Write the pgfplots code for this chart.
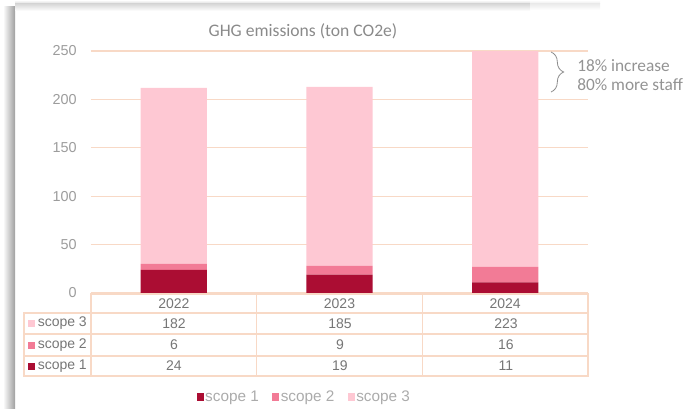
\documentclass[border=0pt]{standalone}
\usepackage{fontspec}
\setmainfont{Liberation Sans}
\newfontfamily\calfont{Carlito}
\usepackage{pgfplots}
\pgfplotsset{compat=1.18}
\usetikzlibrary{decorations.pathreplacing}
\definecolor{s1}{HTML}{AB0D33}
\definecolor{s2}{HTML}{F27B96}
\definecolor{s3}{HTML}{FEC8D3}
\definecolor{gridc}{HTML}{F8D9C6}
\definecolor{tickc}{HTML}{9C9C9C}
\definecolor{tabtxt}{HTML}{767676}
\definecolor{legtxt}{HTML}{ABABAB}
\definecolor{titlec}{HTML}{8A8A8A}
\pgfplotsset{sqleg/.style={legend image code/.code={\fill[##1] (0pt,-2.7pt) rectangle (5.4pt,2.7pt);}}}
\begin{document}
\begin{tikzpicture}[x=0.75pt,y=0.75pt]
\path[use as bounding box] (0,0) rectangle (687,408);
% card shadows
\shade[left color=white, right color=gray!75] (3,0) rectangle (15,401);
\shade[top color=white, bottom color=gray!30] (15,408) rectangle (530,404);
\shade[top color=gray!30, bottom color=white] (15,404) rectangle (530,397);
\shade[top color=white, bottom color=gray!15] (530,408) rectangle (600,404);
\shade[top color=gray!15, bottom color=white] (530,404) rectangle (600,398);
\begin{axis}[
  at={(68.25pt,86.25pt)}, anchor=south west,
  scale only axis, width=372.75pt, height=181.5pt,
  xmin=-0.5, xmax=2.5, ymin=0, ymax=250,
  ybar stacked, bar width=0.4,
  axis line style={draw=none},
  ytick={0,50,100,150,200,250},
  ymajorgrids, grid style={color=gridc, line width=0.9pt},
  major tick length=0pt,
  xtick={0,1,2}, xticklabels={2022,2023,2024},
  /pgf/number format/assume math mode=true,
  xticklabel style={anchor=center, yshift=-7.9pt, font=\fontsize{10.5}{12}\selectfont, text=tabtxt},
  yticklabel style={anchor=east, inner sep=0pt, xshift=-10.5pt, font=\fontsize{10.8}{12}\selectfont, text=tickc},
  clip=false,
  legend style={at={(0.4286,-0.4298)}, anchor=center, draw=none, fill=none,
    legend columns=3, font=\fontsize{11.5}{13}\selectfont, text=legtxt,
    nodes={inner sep=1pt},
    /tikz/every even column/.append style={column sep=9pt}},
]
\addplot[fill=s1, draw=none, sqleg] coordinates {(0,24) (1,19) (2,11)};
\addplot[fill=s2, draw=none, sqleg] coordinates {(0,6) (1,9) (2,16)};
\addplot[fill=s3, draw=none, sqleg] coordinates {(0,182) (1,185) (2,223)};
\legend{scope 1, scope 2, scope 3}
\end{axis}
% data table
\begin{scope}[draw=gridc, line width=0.9pt]
\draw (91,114) rectangle (588,32);
\draw (91,95) -- (588,95);
\draw (24,74) -- (588,74);
\draw (24,52) -- (588,52);
\draw (256.7,114) -- (256.7,32);
\draw (422.3,114) -- (422.3,32);
\draw (24,95) rectangle (91,32);
\end{scope}
\begin{scope}[every node/.style={font=\fontsize{10.5}{12}\selectfont, text=tabtxt, inner sep=0pt}]
\fill[s3] (28,81) rectangle (35,88);
\fill[s2] (28,59.5) rectangle (35,66.5);
\fill[s1] (28,38.5) rectangle (35,45.5);
\node[anchor=west] at (37.5,84.5) {scope 3};
\node[anchor=west] at (37.5,63) {scope 2};
\node[anchor=west] at (37.5,42) {scope 1};
\node at (174,84.5) {182}; \node at (340,84.5) {185}; \node at (506,84.5) {223};
\node at (174,63) {6};     \node at (340,63) {9};     \node at (506,63) {16};
\node at (174,42) {24};    \node at (340,42) {19};    \node at (506,42) {11};
\end{scope}
% title
\node[font=\calfont\fontsize{13.2}{15}\selectfont, text=titlec] at (303,377) {GHG emissions (ton CO2e)};
% annotation
\draw[decorate, decoration={brace, amplitude=9.5pt}, color=gray!90, line width=0.6pt] (551,356) -- (551,316);
\node[anchor=west, inner sep=0pt, font=\calfont\fontsize{13}{15}\selectfont, text=gray!85] at (577,342) {18\% increase};
\node[anchor=west, inner sep=0pt, font=\calfont\fontsize{13}{15}\selectfont, text=gray!85] at (577,323) {80\% more staff};
\end{tikzpicture}
\end{document}
